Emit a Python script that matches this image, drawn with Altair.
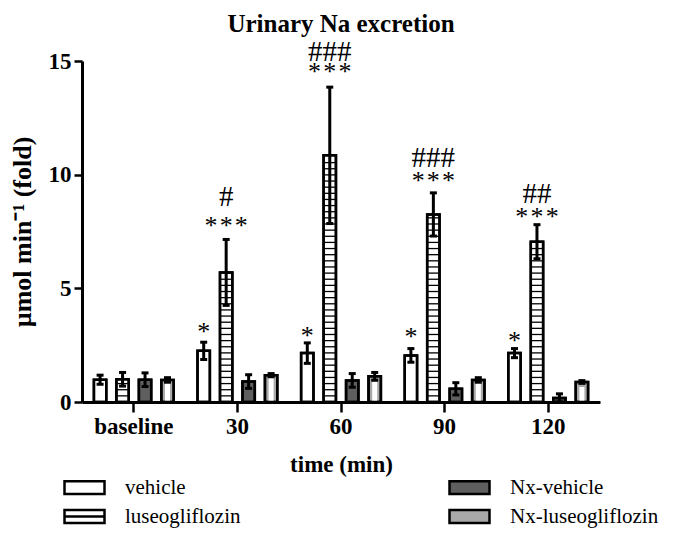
import altair as alt
import pandas as pd
import numpy as np

FONT = "Liberation Serif"

times = ["baseline", "30", "60", "90", "120"]
groups = ["vehicle", "luseogliflozin", "Nx-vehicle", "Nx-luseogliflozin"]

vehicle_mean = [0.98, 2.25, 2.15, 2.05, 2.15]
vehicle_err = [0.2, 0.38, 0.45, 0.3, 0.2]
luseo_mean = [1.0, 5.7, 10.85, 8.25, 7.05]
luseo_err = [0.3, 1.45, 3.0, 0.95, 0.75]
nxveh_mean = [0.98, 0.9, 0.95, 0.58, 0.18]
nxveh_err = [0.3, 0.3, 0.3, 0.27, 0.18]
nxluseo_mean = [0.97, 1.18, 1.13, 0.97, 0.88]
nxluseo_err = [0.1, 0.07, 0.17, 0.1, 0.06]

ann_time = ["30", "30", "30", "60", "60", "60", "90", "90", "90", "120", "120", "120"]
ann_group = ["vehicle", "luseogliflozin", "luseogliflozin"] * 4
ann_text = ["*", "*\u200a*\u200a*", "#", "*", "*\u200a*\u200a*", "###",
            "*", "*\u200a*\u200a*", "###", "*", "*\u200a*\u200a*", "##"]
ann_y = [2.72, 7.37, 8.6, 2.55, 14.15, 15.0, 2.5, 9.37, 10.35, 2.33, 7.77, 8.75]
ann_kind = ["s", "s", "h"] * 4

rows = []
for g, means, errs in [("vehicle", vehicle_mean, vehicle_err),
                       ("luseogliflozin", luseo_mean, luseo_err),
                       ("Nx-vehicle", nxveh_mean, nxveh_err),
                       ("Nx-luseogliflozin", nxluseo_mean, nxluseo_err)]:
    for t, m, e in zip(times, means, errs):
        rows.append(dict(time=t, group=g, mean=m, lo=max(m - e, 0), hi=m + e))
df = pd.DataFrame(rows)

# decorative fill patterns derived from bar values
stripe_rows = []
for t, m in zip(times, luseo_mean):
    for s in np.arange(0.27, m - 0.08, 0.27):
        stripe_rows.append(dict(time=t, group="luseogliflozin", sy=float(s)))
stripes = pd.DataFrame(stripe_rows)

cell = 0.22
check_rows = []
for t, m in zip(times, nxluseo_mean):
    k = 0
    while (k + 1) * cell <= m - 0.04:
        for col in (0, 1):
            if (k + col) % 2 == 1:
                check_rows.append(dict(time=t, group="Nx-luseogliflozin", cy=(k + 0.5) * cell, col=col))
        k += 1
checks = pd.DataFrame(check_rows)

ann = pd.DataFrame(dict(time=ann_time, group=ann_group, text=ann_text, ty=ann_y, kind=ann_kind))

x_axis = alt.Axis(title="time (min)", labelAngle=0, labelFont=FONT, labelFontSize=23,
                  labelFontWeight="bold", labelColor="black", labelPadding=3,
                  titleFont=FONT, titleFontSize=23, titleFontWeight="bold", titleColor="black",
                  titlePadding=15, tickSize=10, tickWidth=2.5, tickColor="black",
                  domainWidth=3, domainColor="black", grid=False)
y_axis = alt.Axis(title="µmol min⁻¹ (fold)", values=[0, 5, 10, 15], labelFont=FONT,
                  labelFontSize=23, labelFontWeight="bold", labelColor="black", labelPadding=3,
                  titleFont=FONT, titleFontSize=26, titleFontWeight="bold", titleColor="black",
                  titlePadding=13, tickSize=8, tickWidth=2.5, tickColor="black",
                  domainWidth=3, domainColor="black", grid=False)

X = alt.X("time:N", sort=times, scale=alt.Scale(domain=times, paddingInner=0.23, paddingOuter=0.115), axis=x_axis)
XO = alt.XOffset("group:N", sort=groups, scale=alt.Scale(domain=groups, paddingInner=0.45, paddingOuter=0))
yscale = alt.Scale(domain=[0, 15], nice=False)


def Y(field):
    return alt.Y(field, type="quantitative", scale=yscale, axis=y_axis)


fill_scale = alt.Scale(domain=groups, range=["white", "white", "#5f5f5f", "#a9a9a9"])
stroke_scale = alt.Scale(domain=groups, range=["black", "black", "black", "black"])
rect_path = "M-2,-0.64H2V0.64H-2Z"
stripe_path = "M-2,-0.64H2V0.64H-2Z M-2,0H2"
shape_scale = alt.Scale(domain=groups, range=[rect_path, stripe_path, rect_path, rect_path])

legend = alt.Legend(title=None, orient="none", legendX=-9, legendY=415, columns=2,
                    direction="vertical", columnPadding=203, rowPadding=6, symbolSize=400,
                    symbolStrokeColor="black", symbolStrokeWidth=2.5, labelFont=FONT,
                    labelFontSize=21, labelColor="black", labelOffset=29, symbolOpacity=1)

bars = alt.Chart(df).mark_bar(strokeWidth=2.5).encode(
    x=X, xOffset=XO, y=Y("mean"),
    fill=alt.Fill("group:N", scale=fill_scale, legend=legend),
    stroke=alt.Stroke("group:N", scale=stroke_scale, legend=legend),
)

legend_pts = alt.Chart(df).transform_filter("false").mark_point(filled=True, strokeWidth=2.5).encode(
    x=X, xOffset=XO, y=Y("mean"),
    fill=alt.Fill("group:N", scale=fill_scale, legend=legend),
    stroke=alt.Stroke("group:N", scale=stroke_scale, legend=legend),
    shape=alt.Shape("group:N", scale=shape_scale, legend=legend),
)

stripe_layer = alt.Chart(stripes).mark_tick(color="black", size=11, thickness=1.3, opacity=1).encode(
    x=X, xOffset=XO, y=Y("sy"))

check_l = alt.Chart(checks).transform_filter("datum.col == 0").mark_square(
    color="white", size=25, opacity=1, dx=-2.6).encode(x=X, xOffset=XO, y=Y("cy"))
check_r = alt.Chart(checks).transform_filter("datum.col == 1").mark_square(
    color="white", size=25, opacity=1, dx=2.6).encode(x=X, xOffset=XO, y=Y("cy"))

outline = alt.Chart(df).mark_bar(fillOpacity=0, stroke="black", strokeWidth=2.5).encode(
    x=X, xOffset=XO, y=Y("mean"))

err = alt.Chart(df).mark_rule(color="black", strokeWidth=3).encode(
    x=X, xOffset=XO, y=Y("lo"), y2="hi")
cap_hi = alt.Chart(df).mark_tick(color="black", size=7, thickness=3, opacity=1).encode(
    x=X, xOffset=XO, y=Y("hi"))
cap_lo = alt.Chart(df).mark_tick(color="black", size=7, thickness=3, opacity=1).encode(
    x=X, xOffset=XO, y=Y("lo"))

stars = alt.Chart(ann).transform_filter("datum.kind == 's'").mark_text(
    font=FONT, fontSize=26, color="black", baseline="alphabetic", align="center").encode(
    x=X, xOffset=XO, y=Y("ty"), text="text:N")
hashes = alt.Chart(ann).transform_filter("datum.kind == 'h'").mark_text(
    font=FONT, fontSize=29, color="black", baseline="alphabetic", align="center").encode(
    x=X, xOffset=XO, y=Y("ty"), text="text:N")

chart = alt.layer(bars, legend_pts, stripe_layer, check_l, check_r, outline, err, cap_hi, cap_lo,
                  stars, hashes).properties(
    width=518, height=341,
    title=alt.TitleParams("Urinary Na excretion", font=FONT, fontSize=25, fontWeight="bold",
                          color="black", anchor="middle", frame="group", offset=0, dy=19,
                          baseline="alphabetic"),
    autosize=alt.AutoSizeParams(type="none"),
    padding={"left": 74, "top": 53, "right": 67, "bottom": 130},
).configure_view(stroke=None)

chart.save("out.html", embed_options={"renderer": "svg", "actions": False})
